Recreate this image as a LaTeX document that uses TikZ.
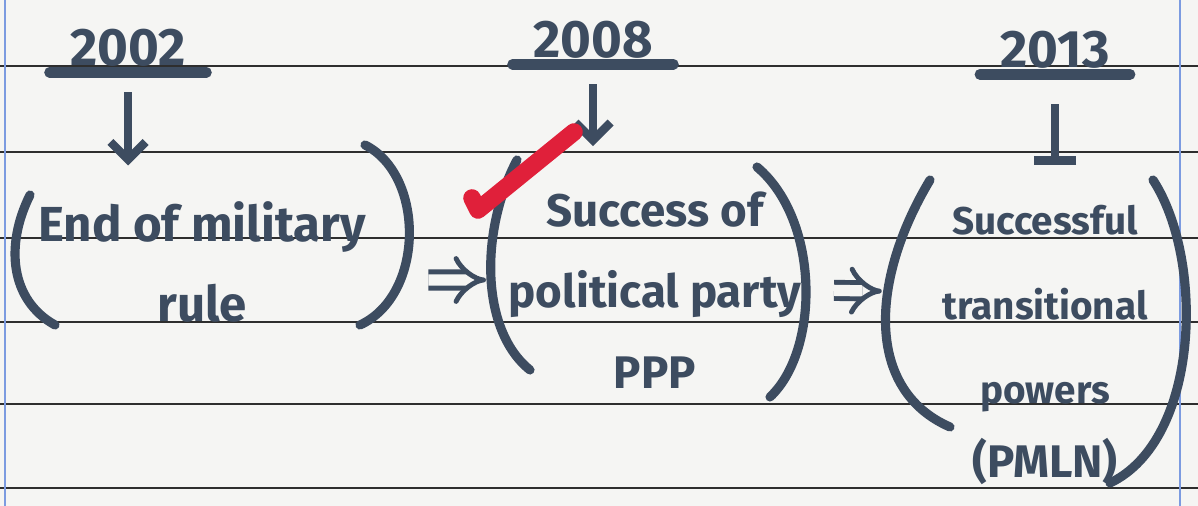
\documentclass[tikz,border=0pt]{standalone}
\usepackage{fontspec}
\setmainfont{Fira Sans}
\usetikzlibrary{arrows.meta,positioning,calc}
\definecolor{ink}{HTML}{3D4C60}
\definecolor{paper}{HTML}{F5F5F3}
\definecolor{rulegrey}{HTML}{2E2E2E}
\definecolor{margin}{HTML}{7C9BE0}
\definecolor{tickred}{HTML}{E0203A}

\begin{document}
\begin{tikzpicture}[
 year/.style={text=ink,font=\fontsize{15}{18}\selectfont\bfseries,inner xsep=0.1cm,inner ysep=0.05cm},
 note/.style={text=ink,align=center,inner sep=0.1cm,font=\fontsize{14}{23}\selectfont\bfseries},
 paren/.style={draw=ink,line width=2.6pt,line cap=round},
 uline/.style={draw=ink,line width=3pt,line cap=round},
 down/.style={draw=ink,line width=2.4pt,-{Straight Barb[length=5pt,width=10pt]}},
 imp/.style={draw=ink,line width=1.4pt,double=paper,double distance=3.2pt,-{Implies}}]
\useasboundingbox[fill=paper] (0,0) rectangle (11.98,-5.06);
% ruled paper
\foreach \y in {0.66,1.52,2.38,3.22,4.04,4.88}
  \draw[rulegrey,line width=0.7pt] (0,-\y) -- (11.98,-\y);
\draw[margin,line width=0.6pt] (0.05,0) -- (0.05,-5.06);
\draw[margin,line width=0.6pt] (11.80,0) -- (11.80,-5.06);

% years
\node[year] (ya) at (1.28,-0.48) {2002};
\node[year] (yb) at (5.93,-0.40) {2008};
\node[year] (yc) at (10.55,-0.50) {2013};
\foreach \n in {ya,yb,yc}
  \draw[uline] ([xshift=-0.1cm]\n.south west) -- ([xshift=0.1cm]\n.south east);

% notes
\node[note] (a) at (2.02,-2.62) {End of military\\rule};
\node[note,font=\fontsize{13}{23}\selectfont\bfseries] (b) at (6.55,-2.90) {Success of\\political party\\PPP};
\node[note,font=\fontsize{11}{24}\selectfont\bfseries] (c) at (10.45,-3.45) {Successful\\transitional\\powers\\[-3pt]{\fontsize{13}{15}\selectfont(PMLN)}};

\draw[down,shorten <=0.2cm,shorten >=0.25cm] (ya.south) -- (ya.south |- a.north);
\draw[down,shorten <=0.2cm,shorten >=0.35cm] (yb.south) -- (yb.south |- b.north);
\draw[draw=ink,line width=2.4pt,-{Bar[width=12pt]},shorten <=0.3cm,shorten >=0.3cm] (yc.south) -- (yc.south |- c.north);

% brackets
\draw[paren] (0.30,-1.95) .. controls (0.05,-2.45) and (0.10,-3.00) .. (0.55,-3.25);
\draw[paren] (3.65,-1.45) .. controls (4.25,-1.75) and (4.25,-2.95) .. (3.60,-3.25);
\draw[paren] (5.17,-1.60) .. controls (4.80,-2.30) and (4.80,-3.30) .. (5.30,-3.70);
\draw[paren] (7.57,-1.67) .. controls (8.20,-2.20) and (8.20,-3.50) .. (7.70,-3.97);
\draw[paren] (9.30,-1.80) .. controls (8.70,-2.80) and (8.65,-3.90) .. (9.50,-4.27);
\draw[paren] (11.53,-1.80) .. controls (12.05,-2.60) and (12.00,-4.40) .. (11.10,-4.83);

\draw[imp,shorten <=0.52cm,shorten >=0.12cm] ([yshift=-0.18cm]a.east) -- ([yshift=0.1cm]b.west);
\draw[imp,shorten <=0.22cm,shorten >=0.5cm] ([yshift=0.0cm]b.east) -- ([yshift=0.53cm]c.west);

\draw[tickred,line width=5pt,line cap=round,line join=round] (4.72,-1.98) -- (4.78,-2.10) -- (5.74,-1.32);
\end{tikzpicture}
\end{document}
